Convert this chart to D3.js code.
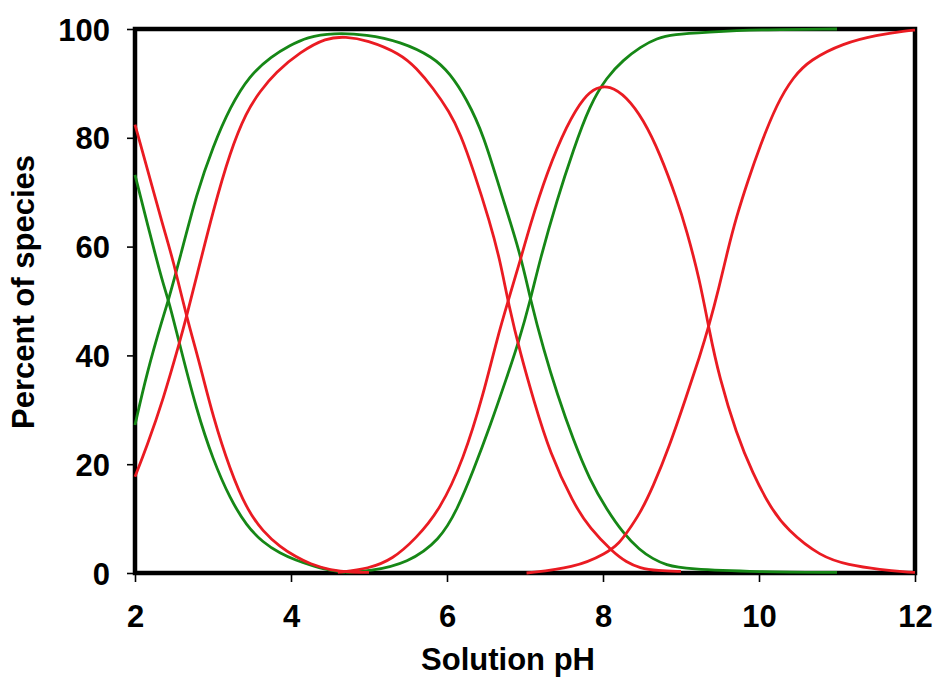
<!DOCTYPE html>
<html><head><meta charset="utf-8">
<script src="https://cdn.jsdelivr.net/npm/d3@7"></script>
<style>body{margin:0;background:#fff}svg{display:block}</style>
</head><body>
<svg id="c" width="936" height="686"></svg>
<script>
// Data (pH, percent of species)
const xTicks = [2, 4, 6, 8, 10, 12];
const yTicks = [0, 20, 40, 60, 80, 100];
const xTitle = "Solution pH";
const yTitle = "Percent of species";

const green1 = [[2.0,73.2],[2.19,62.4],[2.36,53.1],[2.43,50.2],[2.58,41.6],[2.79,29.9],[3.0,20.8],[3.22,13.6],[3.43,8.7],[3.64,5.6],[3.86,3.6],[4.07,2.3],[4.24,1.5],[4.45,0.6],[4.7,0.1]];
const green2 = [[2.0,27.2],[2.15,36.7],[2.36,47.1],[2.43,50.2],[2.58,58.1],[2.79,69.8],[3.0,78.4],[3.22,85.7],[3.47,91.5],[3.75,95],[3.99,97],[4.2,98.5],[4.54,99.3],[4.97,99.0],[5.40,97.7],[5.82,94.9],[6.04,91.8],[6.25,87.2],[6.47,80.5],[6.68,70.4],[6.94,58.8],[7.07,50.2],[7.24,41.0],[7.41,33.0],[7.62,24.4],[7.83,17.1],[8.05,11.6],[8.26,7.3],[8.47,4.2],[8.64,2.6],[8.8,1.5],[9.07,0.7],[10.0,0.2],[11.0,0.1]];
const green3 = [[4.7,0.1],[5.0,0.3],[5.5,1.8],[5.91,6.1],[6.13,11.6],[6.34,18.9],[6.55,26.9],[6.77,36.1],[6.92,42.5],[7.07,50.2],[7.19,57.5],[7.41,68.6],[7.62,77.8],[7.83,86.0],[8.05,91.2],[8.26,94.3],[8.48,96.7],[8.69,98.3],[8.90,99.0],[9.33,99.4],[9.97,99.9],[11.0,100]];

const red1 = [[2.0,82.4],[2.15,74.7],[2.36,63.7],[2.49,57.5],[2.66,47.1],[2.83,38.5],[3.0,28.7],[3.22,18.9],[3.43,11.8],[3.64,7.6],[3.86,4.8],[4.07,2.9],[4.24,1.7],[4.5,0.5],[4.8,0.1],[5.0,0.1]];
const red2 = [[2.0,17.7],[2.15,23.2],[2.36,31.8],[2.58,42.8],[2.66,47.1],[2.79,54.5],[3.0,66.5],[3.22,77.5],[3.43,84.8],[3.6,88.5],[3.8,92],[4.12,95.8],[4.45,98.4],[4.7,98.6],[4.97,98.0],[5.40,95.5],[5.61,92.8],[5.82,89.2],[6.03,84.8],[6.17,80.8],[6.34,74.0],[6.55,64.5],[6.68,57.5],[6.79,49.3],[6.94,40.4],[7.11,31.8],[7.32,22.0],[7.62,12.8],[7.83,8.2],[8.13,3.8],[8.3,2.0],[8.47,0.9],[8.7,0.4],[9.0,0.3]];
const red3 = [[4.6,0.1],[5.0,0.8],[5.3,2.5],[5.6,6.3],[5.91,11.6],[6.21,20.8],[6.47,33.0],[6.64,43.0],[6.79,50.3],[6.94,57.5],[7.06,63.7],[7.28,73.6],[7.54,82.5],[7.76,87.6],[7.92,89.3],[8.08,89.6],[8.30,87.6],[8.52,83.3],[8.73,77.1],[8.95,68.6],[9.07,63.1],[9.24,53.9],[9.36,44.7],[9.49,36.0],[9.71,25.6],[9.92,18.3],[10.14,12.2],[10.36,7.9],[10.79,3.0],[11.14,1.5],[11.57,0.6],[11.87,0.2],[12.0,0.1]];
const red4 = [[7.02,0.0],[7.62,0.9],[8.05,3.6],[8.22,5.7],[8.30,7.3],[8.47,10.8],[8.64,15.8],[8.85,23.2],[9.07,32.5],[9.24,39.8],[9.36,45.5],[9.49,52.6],[9.59,58.8],[9.71,65.5],[9.86,72.2],[10.01,78.4],[10.23,86.3],[10.44,91.2],[10.65,94.3],[11.08,97.4],[11.51,98.9],[11.89,99.7],[12.0,99.8]];

const greenSeries = [green1, green2, green3];
const redSeries = [red1, red2, red3, red4];
const GREEN = "#168716", RED = "#ea1b22";
const FONT = "'Liberation Sans', Arial, sans-serif";

const svg = d3.select("#c");
const L = 135, R = 915, T = 29, B = 573;
const x = d3.scaleLinear().domain([2, 12]).range([L, R]);
const y = d3.scaleLinear().domain([0, 100]).range([B, T]);

// ticks
const xAxis = svg.append("g").attr("transform", `translate(0,${B})`)
  .call(d3.axisBottom(x).tickValues(xTicks).tickSize(9).tickSizeOuter(0).tickFormat(d3.format("d")));
const yAxis = svg.append("g").attr("transform", `translate(${L},0)`)
  .call(d3.axisLeft(y).tickValues(yTicks).tickSize(8).tickSizeOuter(0).tickFormat(d3.format("d")));
[xAxis, yAxis].forEach(g => {
  g.select(".domain").remove();
  g.selectAll(".tick line").attr("stroke", "#000").attr("stroke-width", 1.6);
  g.selectAll(".tick text").attr("fill", "#000")
    .style("font-family", FONT).style("font-weight", "bold").style("font-size", "31px");
});
xAxis.selectAll(".tick text").attr("dy", null).attr("y", 54);
yAxis.selectAll(".tick text").attr("x", -25).attr("dy", "0.36em");

// frame
svg.append("rect").attr("x", L).attr("y", T).attr("width", R - L).attr("height", B - T)
  .attr("fill", "none").attr("stroke", "#000").attr("stroke-width", 4.5);

const line = d3.line().x(d => x(d[0])).y(d => y(d[1])).curve(d3.curveBasis);
svg.append("g").selectAll("path").data(greenSeries).join("path")
  .attr("d", line).attr("fill", "none").attr("stroke", GREEN).attr("stroke-width", 2.8);
svg.append("g").selectAll("path").data(redSeries).join("path")
  .attr("d", line).attr("fill", "none").attr("stroke", RED).attr("stroke-width", 2.8);

// titles
svg.append("text").attr("x", 508).attr("y", 670).attr("text-anchor", "middle")
  .style("font-family", FONT).style("font-weight", "bold")
  .style("font-size", "31px").text(xTitle);
svg.append("text").attr("transform", "translate(34,292) rotate(-90)").attr("text-anchor", "middle")
  .style("font-family", FONT).style("font-weight", "bold")
  .style("font-size", "31px").text(yTitle);
</script>
</body></html>
